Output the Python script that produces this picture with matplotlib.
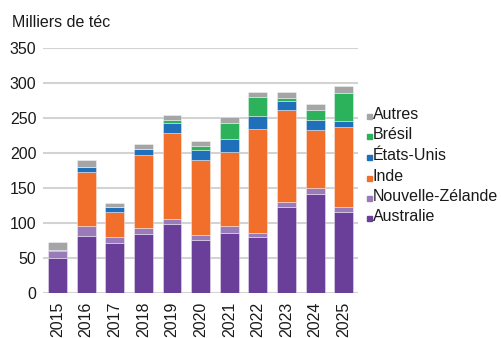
import matplotlib
matplotlib.use("Agg")
import matplotlib.pyplot as plt
from matplotlib.patches import Rectangle

years = ["2015", "2016", "2017", "2018", "2019", "2020", "2021", "2022", "2023", "2024", "2025"]
australie = [50, 81, 71, 84, 98, 75, 85, 79, 123, 141, 116]
nouvelle_zelande = [9, 15, 8, 8, 7, 8, 11, 7, 7, 9, 7]
inde = [1, 76, 36, 105, 123, 107, 105, 148, 131, 82, 114]
etats_unis = [1, 7, 7, 9, 14, 14, 18, 18, 13, 15, 8]
bresil = [0, 0, 0, 0, 5, 5, 23, 27, 4, 14, 40]
autres = [11, 11, 6, 7, 7, 8, 9, 8, 9, 9, 10]

series = [
    ("Australie", australie, "#6a3f99"),
    ("Nouvelle-Zélande", nouvelle_zelande, "#9a7bb9"),
    ("Inde", inde, "#f26e2b"),
    ("États-Unis", etats_unis, "#1f6fba"),
    ("Brésil", bresil, "#2bb25b"),
    ("Autres", autres, "#a5a5a7"),
]
y_ticks = [0, 50, 100, 150, 200, 250, 300, 350]

plt.rcParams["font.family"] = ["Liberation Sans", "DejaVu Sans"]
fs = 11.5

fig = plt.figure(figsize=(5.02, 3.38), dpi=100)
ax = fig.add_axes([43.3 / 502, 1 - 292.7 / 338, (358 - 43.3) / 502, (292.7 - 47.7) / 338])

x = list(range(len(years)))
bottom = [0] * len(years)
for name, vals, color in series:
    ax.bar(x, vals, bottom=bottom, width=0.66, color=color,
           edgecolor=(1, 1, 1, 0.45), linewidth=0.6, zorder=3)
    bottom = [b + v for b, v in zip(bottom, vals)]

ax.set_xlim(-0.5, len(years) - 0.5)
ax.set_ylim(0, 350)
ax.set_yticks(y_ticks)
ax.set_yticklabels([str(t) for t in y_ticks], fontsize=fs, color="#1a1a1a")
ax.set_xticks(x)
ax.set_xticklabels(years, rotation=90, fontsize=fs, color="#1a1a1a")
ax.tick_params(axis="y", length=0, pad=5)
ax.tick_params(axis="x", length=0, pad=6.5)
ax.grid(axis="y", color="#d3d3d3", linewidth=1.5, zorder=0)
for s in ax.spines.values():
    s.set_visible(False)

fig.text(12 / 502, 1 - 27.3 / 338, "Milliers de téc", fontsize=fs,
         color="#1a1a1a", va="baseline", ha="left")

# legend, top entry first
baselines = [119, 139.3, 160, 181, 201, 220.7]
for (name, vals, color), yb in zip(reversed(series), baselines):
    fig.text(373 / 502, 1 - yb / 338, name, fontsize=fs, color="#1a1a1a",
             va="baseline", ha="left")
    fig.patches.append(Rectangle((367 / 502, 1 - yb / 338), 5 / 502, 5 / 338,
                                 transform=fig.transFigure, color=color))

fig.savefig("out.png", dpi=100)
